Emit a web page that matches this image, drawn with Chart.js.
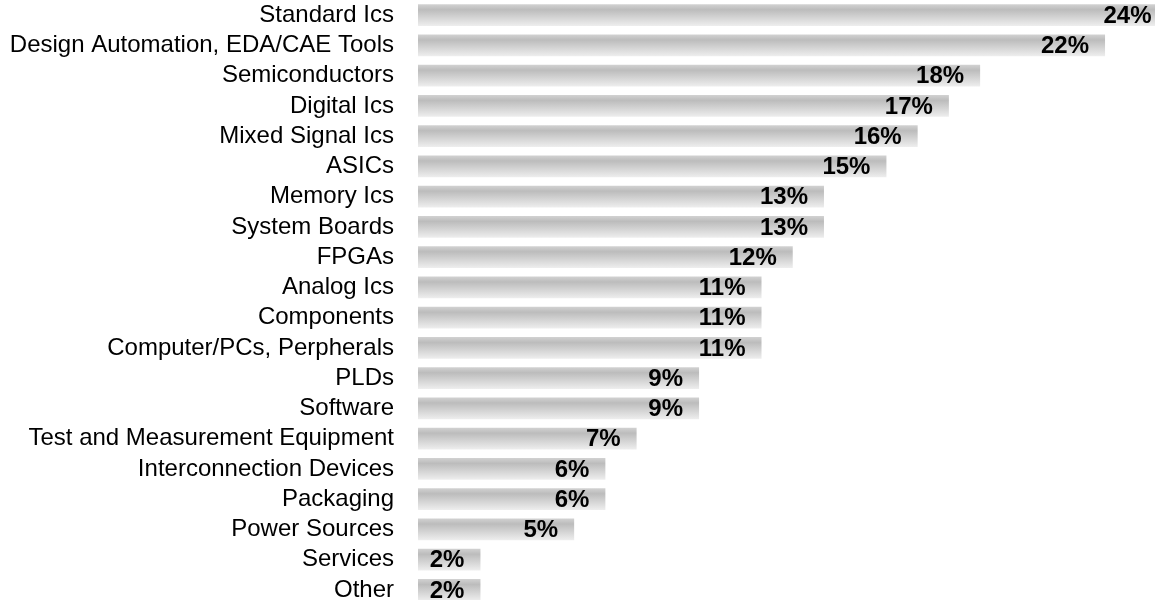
<!DOCTYPE html>
<html>
<head>
<meta charset="utf-8">
<script src="https://cdn.jsdelivr.net/npm/chart.js@4.4.1/dist/chart.umd.min.js"></script>
<style>
  html, body { margin: 0; padding: 0; background: #fff; overflow: hidden; }
  #wrap { width: 1155px; height: 605px; position: relative; }
</style>
</head>
<body>
<div id="wrap"><canvas id="chart"></canvas></div>
<script>
const categories = [
  "Standard Ics",
  "Design Automation, EDA/CAE Tools",
  "Semiconductors",
  "Digital Ics",
  "Mixed Signal Ics",
  "ASICs",
  "Memory Ics",
  "System Boards",
  "FPGAs",
  "Analog Ics",
  "Components",
  "Computer/PCs, Perpherals",
  "PLDs",
  "Software",
  "Test and Measurement Equipment",
  "Interconnection Devices",
  "Packaging",
  "Power Sources",
  "Services",
  "Other"
];
const shares = [24, 22, 18, 17, 16, 15, 13, 13, 12, 11, 11, 11, 9, 9, 7, 6, 6, 5, 2, 2];

const FONT = "'Liberation Sans', Arial, Helvetica, sans-serif";
const BAR_PCT = 0.72;

// grey bar: darker band near the top, fading to almost white at the bottom
function barFill(context) {
  const chart = context.chart;
  const yScale = chart.scales.y;
  if (!yScale || !chart.chartArea) return "#c8c8c8";
  const pitch = (yScale.bottom - yScale.top) / categories.length;
  const h = pitch * BAR_PCT;
  const top = yScale.getPixelForValue(context.dataIndex) - h / 2;
  const g = chart.ctx.createLinearGradient(0, top, 0, top + h);
  g.addColorStop(0, "#d2d2d2");
  g.addColorStop(0.25, "#bcbcbc");
  g.addColorStop(1, "#eeeeee");
  return g;
}

const valueLabels = {
  id: "valueLabels",
  afterDatasetsDraw(chart) {
    const ctx = chart.ctx;
    const xScale = chart.scales.x;
    const meta = chart.getDatasetMeta(0);
    ctx.save();
    ctx.font = "bold 24px " + FONT;
    ctx.fillStyle = "#000";
    ctx.textAlign = "right";
    ctx.textBaseline = "middle";
    meta.data.forEach((bar, i) => {
      const v = shares[i];
      const x = xScale.getPixelForValue(v) - 16;
      ctx.fillText(v + "%", x, bar.y + 1);
    });
    ctx.restore();
  }
};

new Chart(document.getElementById("chart"), {
  type: "bar",
  data: {
    labels: categories,
    datasets: [{
      data: shares,
      backgroundColor: barFill,
      borderWidth: 0,
      categoryPercentage: 1,
      barPercentage: BAR_PCT
    }]
  },
  options: {
    indexAxis: "y",
    responsive: true,
    maintainAspectRatio: false,
    animation: false,
    layout: { padding: 0 },
    plugins: {
      legend: { display: false },
      tooltip: { enabled: false }
    },
    scales: {
      x: {
        display: false,
        min: 0,
        max: 23.6
      },
      y: {
        grid: { display: false, drawTicks: false },
        border: { display: false },
        ticks: {
          color: "#000",
          font: { family: FONT, size: 24, lineHeight: 1.15 },
          padding: 24,
          autoSkip: false
        },
        afterFit(scale) {
          scale.width = 418;
          scale.paddingTop = 0;
          scale.paddingBottom = 0;
        }
      }
    }
  },
  plugins: [valueLabels]
});
</script>
</body>
</html>
